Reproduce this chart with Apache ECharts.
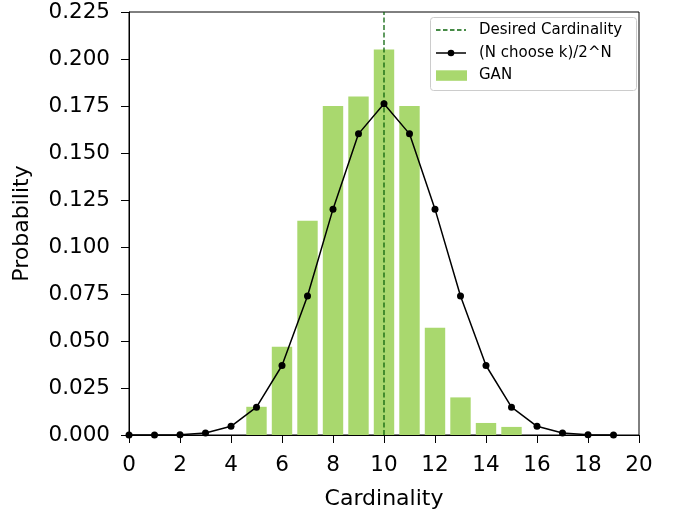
<!DOCTYPE html>
<html><head><meta charset="utf-8">
<script src="https://cdn.jsdelivr.net/npm/echarts@6/dist/echarts.min.js"></script>
<style>html,body{margin:0;padding:0;background:#fff}#c{width:684px;height:515px}</style>
</head><body><div id="c"></div>
<script>
const binomK = [0,1,2,3,4,5,6,7,8,9,10,11,12,13,14,15,16,17,18,19];
const binomP = [0.00000095,0.000019,0.000181,0.001087,0.004621,0.014786,0.036964,0.073929,0.120134,0.160179,0.176197,0.160179,0.120134,0.073929,0.036964,0.014786,0.004621,0.001087,0.000181,0.000019];
const ganK = [5,6,7,8,9,10,11,12,13,14,15];
const ganP = [0.015,0.047,0.114,0.175,0.180,0.205,0.175,0.057,0.020,0.0064,0.0043];
const desired = 10;
const legendLabels = ['Desired Cardinality','(N choose k)/2^N','GAN'];

const chart = echarts.init(document.getElementById('c'));
const font = 'DejaVu Sans';
const barColor = '#a9d86e';
const dashColor = '#0b650b';

// legend drawn as graphic (matplotlib style)
const LX = 430, LY = 17, LW = 206, LH = 73;
const rows = [30, 53, 75.5];
const hx0 = 436, hx1 = 466, tx = 479;
const legendGraphic = [
  {type:'rect',shape:{x:LX+0.5,y:LY+0.5,width:LW,height:LH,r:3},style:{fill:'rgba(255,255,255,0.85)',stroke:'#cccccc',lineWidth:1},z:100},
  {type:'line',shape:{x1:hx0,y1:rows[0],x2:hx1,y2:rows[0]},style:{stroke:dashColor,lineWidth:1.3,lineDash:[4.5,2.5]},z:101},
  {type:'line',shape:{x1:hx0,y1:rows[1],x2:hx1,y2:rows[1]},style:{stroke:'#000',lineWidth:1.5},z:101},
  {type:'circle',shape:{cx:(hx0+hx1)/2,cy:rows[1],r:3.3},style:{fill:'#000'},z:102},
  {type:'rect',shape:{x:hx0,y:rows[2]-5.2,width:31,height:10.5},style:{fill:barColor},z:101}
];
legendLabels.forEach((t,i)=>legendGraphic.push({type:'text',x:tx,y:rows[i],z:101,
  style:{text:t,fontFamily:font,fontSize:15,fill:'#000',verticalAlign:'middle',align:'left'}}));

chart.setOption({
  animation:false,
  textStyle:{fontFamily:font},
  grid:{left:129,right:45,top:12,bottom:79,show:true,borderColor:'#000',borderWidth:1,backgroundColor:'transparent'},
  graphic:legendGraphic,
  xAxis:{type:'value',min:0,max:20,interval:2,
    name:'Cardinality',nameLocation:'middle',nameGap:53,nameTextStyle:{fontFamily:font,fontSize:22,color:'#000'},
    axisLine:{show:true,lineStyle:{color:'#000'}},axisTick:{show:true,length:8,lineStyle:{color:'#000'}},
    axisLabel:{fontFamily:font,fontSize:21.5,color:'#000',margin:19},splitLine:{show:false}},
  yAxis:{type:'value',min:0,max:0.225,interval:0.025,
    name:'Probability',nameLocation:'middle',nameGap:96,nameTextStyle:{fontFamily:font,fontSize:22,color:'#000'},
    axisLine:{show:true,lineStyle:{color:'#000'}},axisTick:{show:true,length:8,lineStyle:{color:'#000'}},
    axisLabel:{fontFamily:font,fontSize:21.5,color:'#000',margin:19,formatter:v=>v.toFixed(3)},splitLine:{show:false}},
  series:[
    {name:'GAN',type:'bar',barWidth:20.4,itemStyle:{color:barColor},z:1,
      data:ganK.map((k,i)=>[k,ganP[i]])},
    {name:'Desired Cardinality',type:'line',symbol:'none',z:3,
      lineStyle:{color:dashColor,width:1.3,type:[5,2.5]},
      data:[[desired,0],[desired,0.225]]},
    {name:'(N choose k)/2^N',type:'line',symbol:'circle',symbolSize:7,z:4,
      itemStyle:{color:'#000'},lineStyle:{color:'#000',width:1.5},
      data:binomK.map((k,i)=>[k,binomP[i]])}
  ]
});
</script></body></html>
